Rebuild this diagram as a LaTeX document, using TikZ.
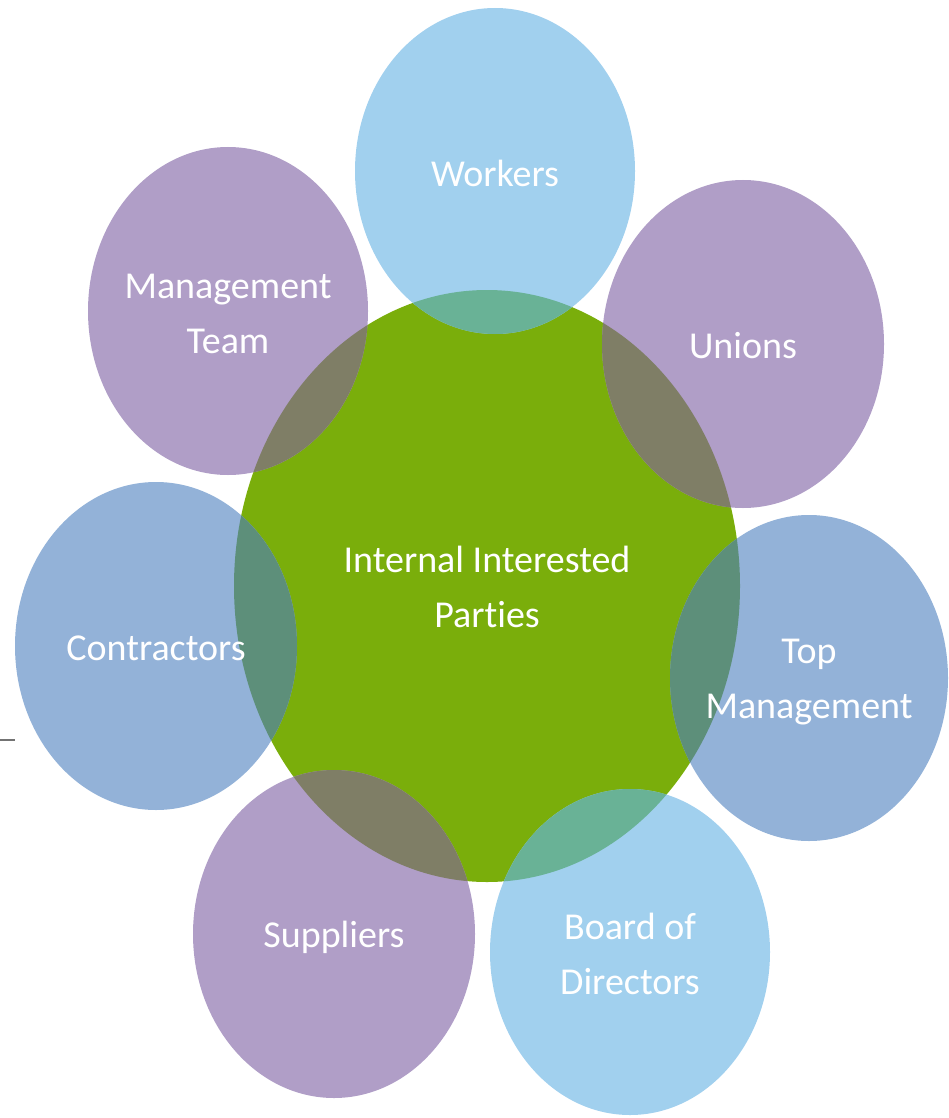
\documentclass[tikz,border=0pt]{standalone}
\usepackage{fontspec}
\setmainfont{Carlito}[Ligatures=NoCommon]
\usetikzlibrary{shapes.geometric}
\definecolor{cgreen}{HTML}{7AAE0B}
\definecolor{clight}{HTML}{A1D0EE}
\definecolor{cpurple}{HTML}{B09EC7}
\definecolor{cgrayblue}{HTML}{93B2D8}
\definecolor{olight}{HTML}{69B296}
\definecolor{opurple}{HTML}{7F7E66}
\definecolor{ograyblue}{HTML}{5D8F7A}
\tikzset{
  lbl/.style={text=white, align=center, font=\fontsize{38}{55}\selectfont, inner sep=0pt},
}
\begin{document}
\begin{tikzpicture}[x=1pt,y=-1pt]
\useasboundingbox (0,0) rectangle (948,1118);
% centre circle
\fill[cgreen] (487,586) ellipse [x radius=253pt, y radius=296pt];
% outer circles
\fill[clight]    (495,171) ellipse [x radius=140pt, y radius=163pt];
\fill[cpurple]   (743,344) ellipse [x radius=141pt, y radius=164pt];
\fill[cgrayblue] (809,678) ellipse [x radius=139pt, y radius=163pt];
\fill[clight]    (630,952) ellipse [x radius=140pt, y radius=163pt];
\fill[cpurple]   (334,934) ellipse [x radius=141pt, y radius=164pt];
\fill[cgrayblue] (156,646) ellipse [x radius=141pt, y radius=164pt];
\fill[cpurple]   (228,311) ellipse [x radius=140pt, y radius=164pt];
% overlaps
\begin{scope}
\clip (487,586) ellipse [x radius=253pt, y radius=296pt];
\fill[olight]    (495,171) ellipse [x radius=140pt, y radius=163pt];
\fill[opurple]   (743,344) ellipse [x radius=141pt, y radius=164pt];
\fill[ograyblue] (809,678) ellipse [x radius=139pt, y radius=163pt];
\fill[olight]    (630,952) ellipse [x radius=140pt, y radius=163pt];
\fill[opurple]   (334,934) ellipse [x radius=141pt, y radius=164pt];
\fill[ograyblue] (156,646) ellipse [x radius=141pt, y radius=164pt];
\fill[opurple]   (228,311) ellipse [x radius=140pt, y radius=164pt];
\end{scope}
% small mark at left edge
\coordinate (m1) at (0,740);
\coordinate (m2) at (15,740);
\draw[black!55, line width=1.5pt] (m1) -- (m2);
% labels
\node[lbl] (center) at (487,587) {Internal Interested\\Par{}ties};
\node[lbl] (workers) at (495,173) {Workers};
\node[lbl] (unions) at (743,346) {Unions};
\node[lbl] (topm) at (809,682) {Top\\Management};
\node[lbl] (board) at (630,954) {Board of\\Directors};
\node[lbl] (suppliers) at (334,937) {Suppliers};
\node[lbl] (contractors) at (156,648) {Contractors};
\node[lbl] (mteam) at (228,314) {Management\\Team};
\end{tikzpicture}
\end{document}
